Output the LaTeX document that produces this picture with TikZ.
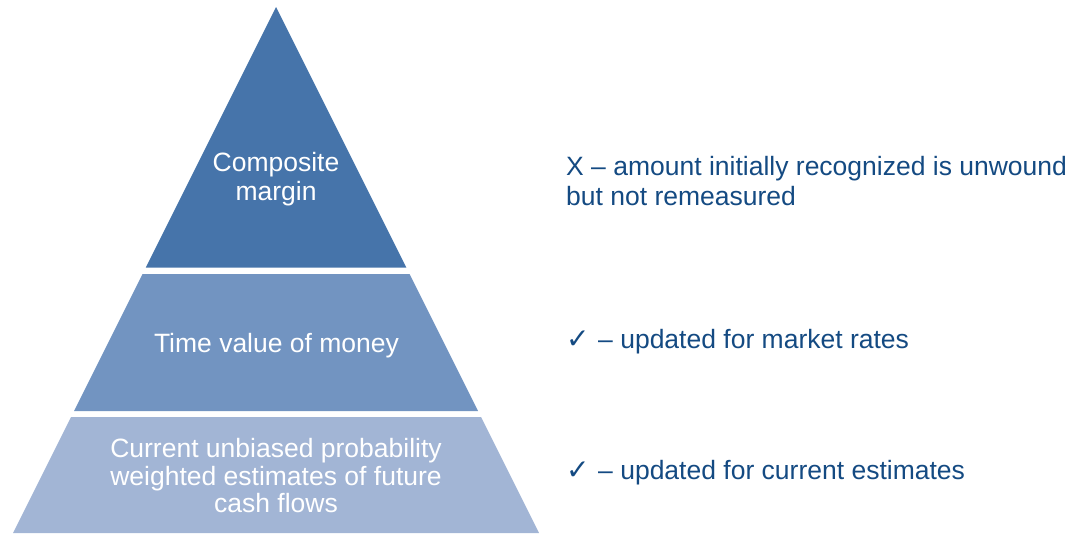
\documentclass[tikz,border=0pt]{standalone}
\usepackage{fontspec}
\setmainfont{Liberation Sans}
\newfontfamily\symfont{DejaVu Sans}
\definecolor{tierA}{HTML}{4674AA}
\definecolor{tierB}{HTML}{7294C1}
\definecolor{tierC}{HTML}{A2B5D5}
\definecolor{notecol}{HTML}{144A82}
\begin{document}
\begin{tikzpicture}[x=1pt,y=-1pt,
  tiertext/.style={text=white,align=center,inner sep=0pt,
    font=\fontsize{26.5}{27.5}\selectfont},
  notetext/.style={text=notecol,align=left,inner sep=0pt,
    font=\fontsize{26.5}{30}\selectfont},
  checkmark/.style={text=notecol,inner sep=0pt,
    font=\symfont\bfseries\fontsize{28}{28}\selectfont}]
\useasboundingbox (0,0) rectangle (1086,533);
% three tiers of the pyramid
\fill[tierA] (276,7) -- (406.25,267.5) -- (145.75,267.5) -- cycle;
\fill[tierB] (142.5,274) -- (409.5,274) -- (478,411) -- (74,411) -- cycle;
\fill[tierC] (71,417) -- (481,417) -- (539,533) -- (13,533) -- cycle;
% tier labels
\node[tiertext,anchor=north,font=\fontsize{26.5}{29}\selectfont] (margin) at (276,152)
  {Composite\\margin};
\node[tiertext,anchor=base] (money) at (276.5,352) {Time value of money};
\node[tiertext,anchor=north] (flows) at (276,438.4)
  {Current unbiased probability\\weighted estimates of future\\cash flows};
% remarks on each tier
\node[notetext,anchor=north west] (noteA) at (566,155.7)
  {X -- amount initially recognized is unwound\\but not remeasured};
\node[checkmark,anchor=base west] (checkB) at (566,348) {✓};
\node[notetext,anchor=base west] (noteB) at (598,348) {-- updated for market rates};
\node[checkmark,anchor=base west] (checkC) at (566,479) {✓};
\node[notetext,anchor=base west] (noteC) at (598,479) {-- updated for current estimates};
\end{tikzpicture}
\end{document}
